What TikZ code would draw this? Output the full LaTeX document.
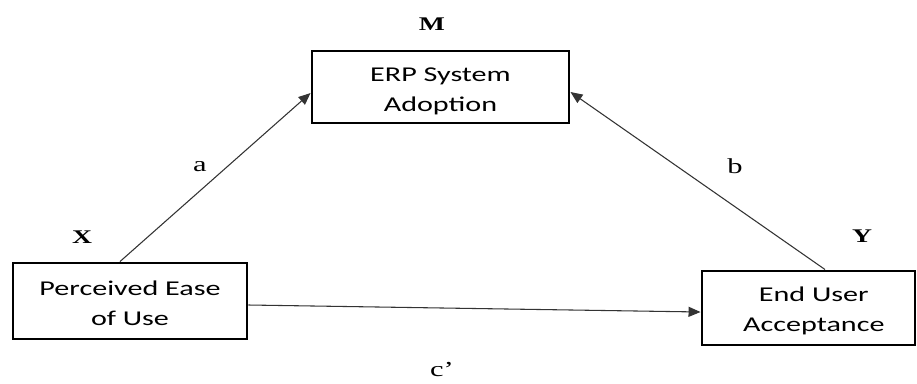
\documentclass[tikz,border=0pt]{standalone}
\usepackage{fontspec}
\usetikzlibrary{arrows.meta}
\newfontfamily\boxfont[FakeStretch=1.43]{Carlito}
\newfontfamily\labfont[FakeStretch=1.43]{Liberation Serif}
\newdimen\pxu \pxu=0.75pt
\tikzset{
  varbox/.style={draw=black, line width=2.2pt, rectangle, inner sep=0pt},
  boxtext/.style={align=center, inner sep=0pt,
    font=\boxfont\fontsize{15.8}{22.5}\selectfont},
  path/.style={draw=black!80, line width=0.8pt,
    -{Triangle[length=9pt, width=7.5pt]}},
  lab/.style={font=\labfont\fontsize{16}{18}\selectfont, inner sep=0pt},
  varlab/.style={font=\labfont\bfseries\fontsize{14.5}{16}\selectfont, inner sep=0pt}
}
\begin{document}
\begin{tikzpicture}[x=0.75pt, y=-0.75pt]
  \useasboundingbox (0,0) rectangle (917,383);
  % the three variables
  \node[varbox, minimum width=257\pxu, minimum height=72\pxu] (M) at (440.5,87) {};
  \node[varbox, minimum width=234\pxu, minimum height=76\pxu] (X) at (130,301) {};
  \node[varbox, minimum width=213\pxu, minimum height=74\pxu] (Y) at (808.5,308) {};
  \node[boxtext] (Mt) at ([yshift=-3pt]M.center) {ERP System\\Adoption};
  \node[boxtext] (Xt) at ([yshift=-2pt]X.center) {Perceived Ease\\of Use};
  \node[boxtext] (Yt) at ([xshift=4pt,yshift=-2pt]Y.center) {End User\\Acceptance};
  % variable letters
  \node[varlab] (lM) at (432,24) {M};
  \node[varlab] (lX) at (82,237) {X};
  \node[varlab] (lY) at (862,236) {Y};
  % paths
  \draw[path] ([xshift=-7.5pt]X.north) -- ([yshift=-4.5pt]M.west);
  \draw[path] ([xshift=12.4pt]Y.north) -- ([yshift=-3.75pt]M.east);
  \draw[path] ([yshift=-3pt]X.east) -- ([yshift=-3pt]Y.west);
  % path labels
  \node[lab] (la) at (200,167) {a};
  \node[lab] (lb) at (735,166) {b};
  \node[lab] (lc) at (442,370) {c’};
\end{tikzpicture}
\end{document}
